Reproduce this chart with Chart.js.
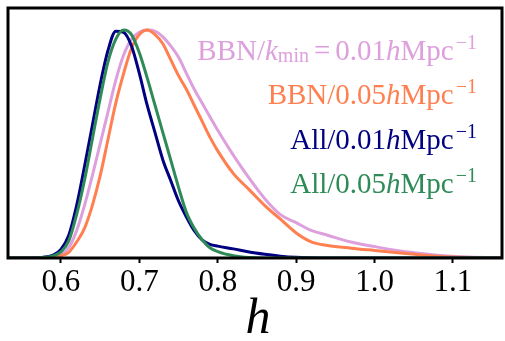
<!DOCTYPE html>
<html>
<head>
<meta charset="utf-8">
<script src="https://cdn.jsdelivr.net/npm/chart.js@4.4.1/dist/chart.umd.min.js"></script>
<style>
  html, body { margin: 0; padding: 0; background: #fff; }
  #wrap { width: 505px; height: 341px; }
</style>
</head>
<body>
<div id="wrap"><canvas id="myChart"></canvas></div>
<script>
// h grid and posterior curves (peak normalised to 1)
const hGrid = [0.53, 0.56, 0.58,
  0.59, 0.60, 0.61, 0.62, 0.63, 0.64, 0.65, 0.66, 0.67, 0.68, 0.69, 0.70,
  0.71, 0.72, 0.73, 0.74, 0.75, 0.76, 0.77, 0.78, 0.79, 0.80,
  0.82, 0.84, 0.86, 0.88, 0.90, 0.92, 0.94,
  0.97, 1.00, 1.04, 1.08, 1.12, 1.17];

const bbn001 = [0, 0, 0.003,
  0.007, 0.016, 0.045, 0.12, 0.23, 0.36, 0.50, 0.64, 0.78, 0.89, 0.96, 0.99,
  1.0, 0.995, 0.97, 0.93, 0.88, 0.81, 0.74, 0.68, 0.62, 0.56,
  0.45, 0.35, 0.26, 0.19, 0.155, 0.12, 0.10,
  0.07, 0.05, 0.027, 0.012, 0.004, 0];

const bbn005 = [0, 0, 0.002,
  0.005, 0.01, 0.025, 0.07, 0.13, 0.23, 0.36, 0.52, 0.68, 0.81, 0.92, 0.98,
  1.0, 0.98, 0.94, 0.87, 0.80, 0.74, 0.67, 0.60, 0.53, 0.47,
  0.37, 0.30, 0.23, 0.17, 0.11, 0.07, 0.055,
  0.043, 0.033, 0.02, 0.008, 0.002, 0];

const all001 = [0, 0, 0.004,
  0.013, 0.038, 0.10, 0.23, 0.40, 0.58, 0.76, 0.91, 0.995, 0.99, 0.93, 0.81,
  0.67, 0.55, 0.43, 0.34, 0.25, 0.18, 0.12, 0.08, 0.06, 0.052,
  0.04, 0.026, 0.016, 0.008, 0.003, 0.001, 0,
  0, 0, 0, 0, 0, 0];

const all005 = [0, 0, 0.003,
  0.009, 0.027, 0.075, 0.19, 0.34, 0.52, 0.70, 0.86, 0.96, 1.0, 0.98, 0.90,
  0.79, 0.67, 0.55, 0.43, 0.31, 0.20, 0.13, 0.08, 0.045, 0.028,
  0.01, 0.002, 0, 0, 0, 0, 0,
  0, 0, 0, 0, 0, 0];

const tickValues = [0.6, 0.7, 0.8, 0.9, 1.0, 1.1];
const seriesNames = ['BBN/kmin=0.01hMpc-1', 'BBN/0.05hMpc-1', 'All/0.01hMpc-1', 'All/0.05hMpc-1'];
const seriesColors = ['#DDA0DD', '#FF7F50', '#000080', '#2E8B57'];
const seriesValues = [bbn001, bbn005, all001, all005];

const FONT = '"Liberation Serif", "Times New Roman", serif';

// legend text pieces (t: text, it: italic, sz: size, dy: baseline shift, gl/gr: extra gap)
const legendParts = [
  [{t: 'BBN/'}, {t: 'k', it: 1}, {t: 'min', sz: 20, dy: 2}, {t: '=', gl: 5, gr: 5},
   {t: '0.01'}, {t: 'h', it: 1}, {t: 'Mpc'}, {t: '\u22121', sz: 20, dy: -11, gl: 2}],
  [{t: 'BBN/0.05'}, {t: 'h', it: 1}, {t: 'Mpc'}, {t: '\u22121', sz: 20, dy: -11, gl: 2}],
  [{t: 'All/0.01'}, {t: 'h', it: 1}, {t: 'Mpc'}, {t: '\u22121', sz: 20, dy: -11, gl: 2}],
  [{t: 'All/0.05'}, {t: 'h', it: 1}, {t: 'Mpc'}, {t: '\u22121', sz: 20, dy: -11, gl: 2}]
];

function drawRich(ctx, parts, right, base, color) {
  const fontOf = p => (p.it ? 'italic ' : '') + (p.sz || 29) + 'px ' + FONT;
  let w = 0;
  parts.forEach(p => {
    ctx.font = fontOf(p);
    w += (p.gl || 0) + ctx.measureText(p.t).width + (p.gr || 0);
  });
  let x = right - w;
  ctx.fillStyle = color;
  ctx.textAlign = 'left';
  ctx.textBaseline = 'alphabetic';
  parts.forEach(p => {
    ctx.font = fontOf(p);
    x += (p.gl || 0);
    ctx.fillText(p.t, x, base + (p.dy || 0));
    x += ctx.measureText(p.t).width + (p.gr || 0);
  });
}

const decor = {
  id: 'decor',
  afterDraw(chart) {
    const ctx = chart.ctx;
    const a = chart.chartArea;
    ctx.save();
    // frame
    ctx.strokeStyle = '#000';
    ctx.lineWidth = 3;
    ctx.strokeRect(a.left, a.top, a.right - a.left, a.bottom - a.top);
    // legend text
    legendParts.forEach((parts, i) => {
      drawRich(ctx, parts, 477, 59.5 + i * 44.5, seriesColors[i]);
    });
    // x title
    ctx.fillStyle = '#000';
    ctx.font = 'italic 50px ' + FONT;
    ctx.textAlign = 'center';
    ctx.textBaseline = 'alphabetic';
    ctx.fillText('h', 258, 333);
    ctx.restore();
  }
};

const ctx = document.getElementById('myChart').getContext('2d');
const myChart = new Chart(ctx, {
  type: 'line',
  data: {
    datasets: seriesValues.map((vals, i) => ({
      label: seriesNames[i],
      data: hGrid.map((h, j) => ({x: h, y: vals[j]})),
      borderColor: seriesColors[i],
      backgroundColor: seriesColors[i],
      borderWidth: 3,
      pointRadius: 0,
      cubicInterpolationMode: 'monotone',
      order: 3 - i
    }))
  },
  options: {
    responsive: true,
    maintainAspectRatio: false,
    animation: false,
    layout: { padding: { left: 8, right: 3, top: 8, bottom: 0 } },
    plugins: { legend: { display: false }, tooltip: { enabled: false } },
    scales: {
      x: {
        type: 'linear',
        min: 0.5325,
        max: 1.1625,
        afterBuildTicks: s => { s.ticks = tickValues.map(v => ({value: v})); },
        afterFit: s => { s.height = 83; },
        ticks: {
          callback: v => v.toFixed(1),
          font: { family: FONT, size: 31 },
          color: '#000',
          padding: 1,
          maxRotation: 0,
          autoSkip: false
        },
        grid: {
          drawOnChartArea: false,
          drawTicks: true,
          tickLength: 5,
          tickWidth: 2,
          tickColor: '#000'
        },
        border: { display: false }
      },
      y: {
        display: false,
        min: 0,
        max: 1.0965
      }
    }
  },
  plugins: [decor]
});
</script>
</body>
</html>
